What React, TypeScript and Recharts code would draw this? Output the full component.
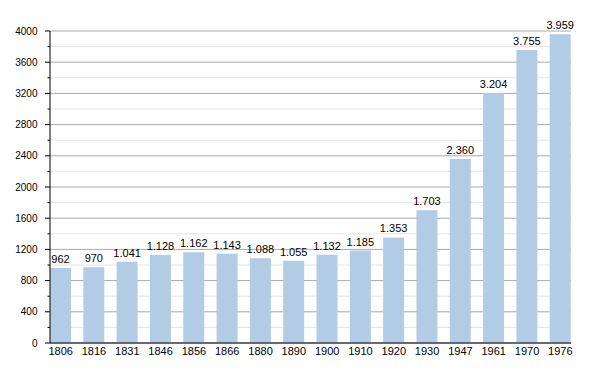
import { Bar, BarChart, CartesianGrid, LabelList, XAxis, YAxis } from "recharts";

const YEARS = [
  "1806", "1816", "1831", "1846", "1856", "1866", "1880", "1890",
  "1900", "1910", "1920", "1930", "1947", "1961", "1970", "1976",
];
const POPULATION = [
  962, 970, 1041, 1128, 1162, 1143, 1088, 1055,
  1132, 1185, 1353, 1703, 2360, 3204, 3755, 3959,
];
const MAJOR_TICKS = [0, 400, 800, 1200, 1600, 2000, 2400, 2800, 3200, 3600, 4000];
const MINOR_TICKS = [200, 600, 1000, 1400, 1800, 2200, 2600, 3000, 3400, 3800];
const ALL_TICKS = [...MAJOR_TICKS, ...MINOR_TICKS].sort((a, b) => a - b);

const data = YEARS.map((year, i) => ({ year, value: POPULATION[i] }));

const FONT = "'Liberation Sans', Arial, sans-serif";

// dot as thousands separator, like the original
const fmt = (v: number) => String(v).replace(/\B(?=(\d{3})+(?!\d))/g, ".");

function YTick({ x, y, payload }: { x?: number; y?: number; payload?: { value: number } }) {
  const v = payload?.value ?? 0;
  const major = MAJOR_TICKS.includes(v);
  return (
    <g>
      <line x1={x! - (major ? 5 : 2.5)} x2={x} y1={y} y2={y} stroke="#000" />
      {major && (
        <text x={x! - 12.5} y={y} dy="0.355em" textAnchor="end" fontSize={10} fill="#000" fontFamily={FONT}>
          {v}
        </text>
      )}
    </g>
  );
}

export default function App() {
  return (
    <div style={{ position: "absolute", left: 0, top: 0, background: "#fff" }}>
      <BarChart
        width={600}
        height={373}
        data={data}
        margin={{ top: 31, right: 29, left: 0, bottom: 10 }}
      >
        <CartesianGrid vertical={false} horizontalValues={MINOR_TICKS} stroke="#e4e4e4" />
        <CartesianGrid vertical={false} horizontalValues={MAJOR_TICKS} stroke="#a9a9a9" />
        <XAxis
          dataKey="year"
          padding={{ left: -6, right: -6 }}
          axisLine={{ stroke: "#000" }}
          tickLine={false}
          tickSize={0}
          tickMargin={4}
          interval={0}
          height={20}
          tick={{ fill: "#000", fontSize: 11, fontFamily: FONT }}
        />
        <YAxis
          domain={[0, 4000]}
          ticks={ALL_TICKS}
          interval={0}
          width={50}
          axisLine={{ stroke: "#000" }}
          tickLine={false}
          tickSize={0}
          tickMargin={0}
          tick={<YTick />}
        />
        <Bar dataKey="value" fill="#b2cce5" barSize={21} isAnimationActive={false}>
          <LabelList
            dataKey="value"
            position="top"
            formatter={(v: number) => fmt(v)}
            style={{ fill: "#000", fontSize: 11, fontFamily: FONT }}
          />
        </Bar>
      </BarChart>
    </div>
  );
}
